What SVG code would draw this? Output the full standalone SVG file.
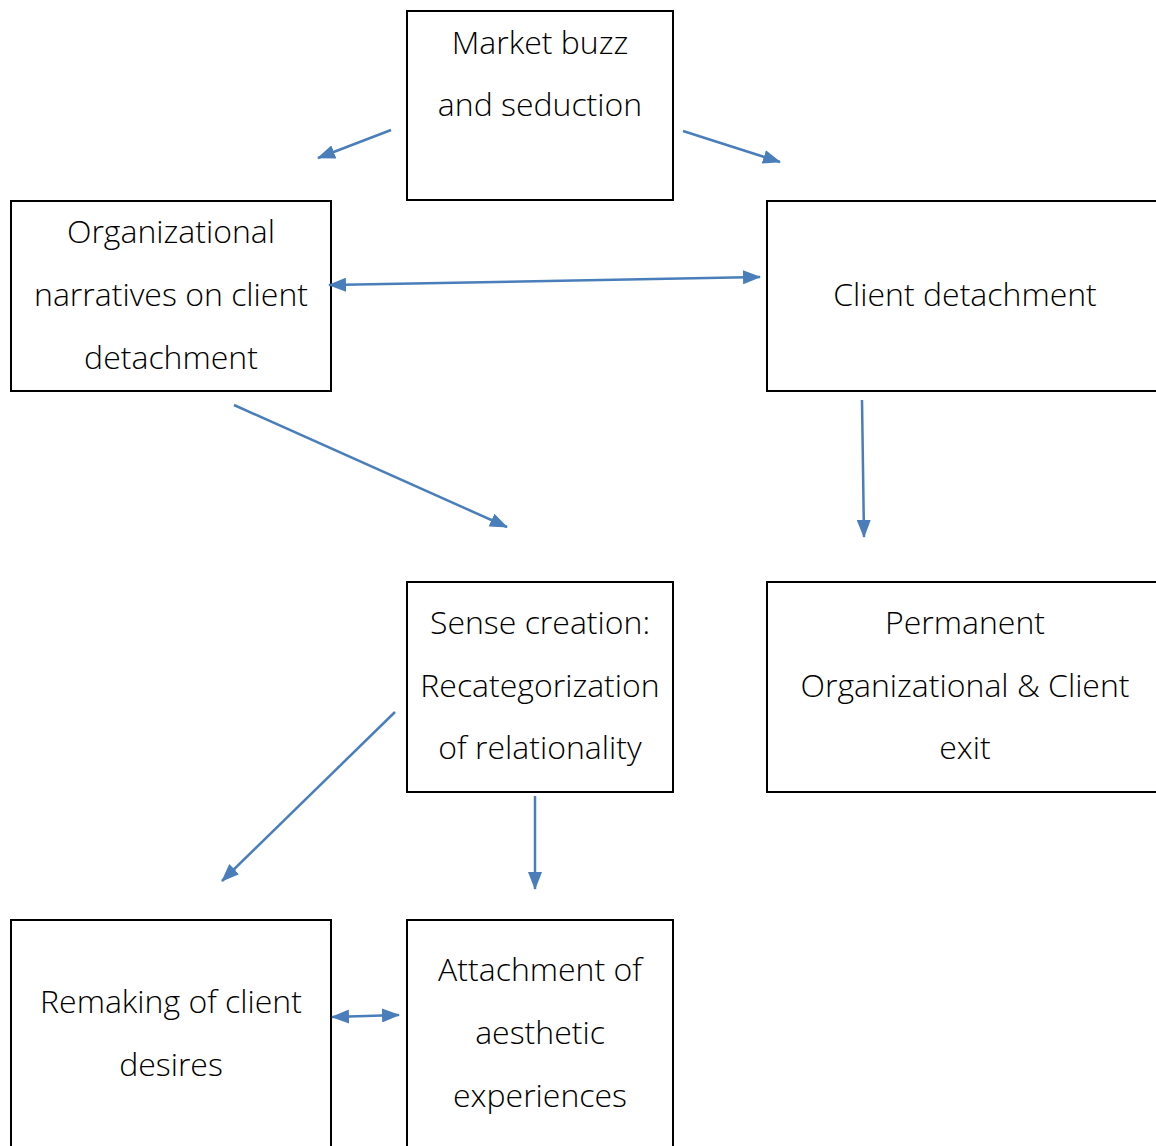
<svg xmlns="http://www.w3.org/2000/svg" width="1156" height="1146" viewBox="0 0 1156 1146">
<style>
.box{fill:#fff;stroke:#000;stroke-width:2}
.t{font-family:"Open Sans","Noto Sans","DejaVu Sans",sans-serif;font-weight:300;font-size:32px;fill:#000;text-anchor:middle}
.c{stroke:#4a7ebb;stroke-width:2.5;fill:none}
</style>
<defs>
<marker id="ah" viewBox="0 0 18 14" refX="17" refY="7" markerWidth="18" markerHeight="14" markerUnits="userSpaceOnUse" orient="auto-start-reverse">
<path d="M0,0 L18,7 L0,14 z" fill="#4a7ebb"/>
</marker>
</defs>
<rect width="1156" height="1146" fill="#fff"/>
<g id="n-market">
<rect class="box" x="407" y="11" width="266" height="189"/>
<text class="t" x="540" y="54">Market buzz</text>
<text class="t" x="540" y="116">and seduction</text>
</g>
<g id="n-narratives">
<rect class="box" x="11" y="201" width="320" height="190"/>
<text class="t" x="171" y="243">Organizational</text>
<text class="t" x="171" y="306">narratives on client</text>
<text class="t" x="171" y="369">detachment</text>
</g>
<g id="n-detachment">
<rect class="box" x="767" y="201" width="400" height="190"/>
<text class="t" x="965" y="306">Client detachment</text>
</g>
<g id="n-sense">
<rect class="box" x="407" y="582" width="266" height="210"/>
<text class="t" x="540" y="634">Sense creation:</text>
<text class="t" x="540" y="697">Recategorization</text>
<text class="t" x="540" y="759">of relationality</text>
</g>
<g id="n-exit">
<rect class="box" x="767" y="582" width="400" height="210"/>
<text class="t" x="965" y="634">Permanent</text>
<text class="t" x="965" y="697">Organizational &amp; Client</text>
<text class="t" x="965" y="759">exit</text>
</g>
<g id="n-remaking">
<rect class="box" x="11" y="920" width="320" height="240"/>
<text class="t" x="171" y="1013">Remaking of client</text>
<text class="t" x="171" y="1076">desires</text>
</g>
<g id="n-attachment">
<rect class="box" x="407" y="920" width="266" height="240"/>
<text class="t" x="540" y="981">Attachment of</text>
<text class="t" x="540" y="1044">aesthetic</text>
<text class="t" x="540" y="1107">experiences</text>
</g>
<g id="connectors">
<line class="c" x1="391" y1="130" x2="318" y2="158" marker-end="url(#ah)"/>
<line class="c" x1="683" y1="131" x2="780" y2="162" marker-end="url(#ah)"/>
<line class="c" x1="329" y1="285" x2="760" y2="277" marker-start="url(#ah)" marker-end="url(#ah)"/>
<line class="c" x1="234" y1="405" x2="507" y2="527" marker-end="url(#ah)"/>
<line class="c" x1="862" y1="400" x2="864" y2="537" marker-end="url(#ah)"/>
<line class="c" x1="395" y1="712" x2="222" y2="881" marker-end="url(#ah)"/>
<line class="c" x1="535" y1="796" x2="535" y2="889" marker-end="url(#ah)"/>
<line class="c" x1="332" y1="1017" x2="399" y2="1015" marker-start="url(#ah)" marker-end="url(#ah)"/>
</g>
</svg>
